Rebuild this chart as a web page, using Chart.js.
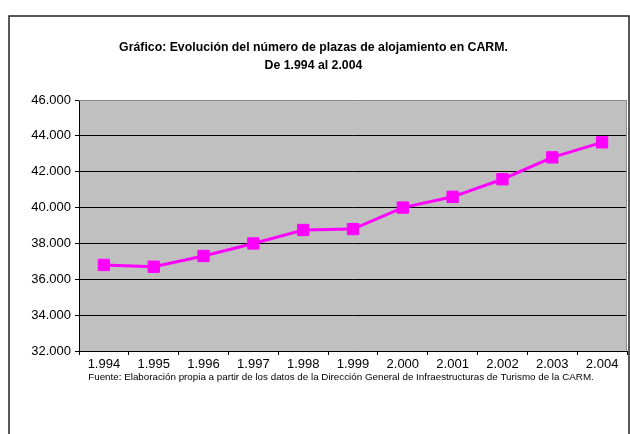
<!DOCTYPE html>
<html>
<head>
<meta charset="utf-8">
<script src="https://cdn.jsdelivr.net/npm/chart.js@4.4.1/dist/chart.umd.min.js"></script>
<style>
  html, body { margin: 0; padding: 0; background: #fff; }
  #wrap { width: 630px; height: 434px; }
</style>
</head>
<body>
<div id="wrap"><canvas id="plazasChart"></canvas></div>
<script>
// chart data
const years = ['1.994', '1.995', '1.996', '1.997', '1.998', '1.999', '2.000', '2.001', '2.002', '2.003', '2.004'];
const plazas = [36800, 36700, 37300, 38000, 38750, 38800, 40000, 40600, 41580, 42800, 43640];
const yMin = 32000;
const yMax = 46000;
const yStep = 2000;

const titleLines = ['Gráfico: Evolución del número de plazas de alojamiento en CARM.', 'De 1.994 al 2.004'];
const sourceNote = 'Fuente: Elaboración propia a partir de los datos de la Dirección General de Infraestructuras de Turismo de la CARM.';

const FONT = 'Liberation Sans, Arial, sans-serif';

// 38000 -> "38.000"
function thousands(v) {
    const s = String(Math.round(v));
    return s.slice(0, s.length - 3) + '.' + s.slice(-3);
}

// grey plot background, outer frame and source note
const framePlugin = {
    id: 'framePlugin',
    beforeDraw(chart) {
        const { ctx, chartArea: a } = chart;
        ctx.save();
        ctx.fillStyle = '#fff';
        ctx.fillRect(0, 0, chart.width, chart.height);
        ctx.fillStyle = '#C0C0C0';
        ctx.fillRect(a.left, a.top, a.right - a.left, a.bottom - a.top);
        ctx.strokeStyle = '#222';
        ctx.lineWidth = 1.5;
        ctx.strokeRect(9, 16, 620, 440);
        ctx.restore();
    },
    beforeDatasetsDraw(chart) {
        const { ctx, chartArea: a } = chart;
        ctx.save();
        ctx.strokeStyle = '#8a8a8a';
        ctx.lineWidth = 1;
        ctx.beginPath();
        ctx.moveTo(a.left, a.top + 0.5);
        ctx.lineTo(a.right - 0.5, a.top + 0.5);
        ctx.lineTo(a.right - 0.5, a.bottom);
        ctx.stroke();
        ctx.restore();
    },
    afterDraw(chart) {
        const { ctx, chartArea: a } = chart;
        ctx.save();
        ctx.fillStyle = '#000';
        ctx.font = '9.8px ' + FONT;
        ctx.textAlign = 'center';
        ctx.textBaseline = 'middle';
        ctx.fillText(sourceNote, 341, a.bottom + 26);
        ctx.restore();
    }
};

new Chart(document.getElementById('plazasChart'), {
    type: 'line',
    data: {
        labels: years,
        datasets: [{
            data: plazas,
            borderColor: '#FF00FF',
            backgroundColor: '#FF00FF',
            borderWidth: 3,
            pointStyle: 'rect',
            pointRadius: 8,
            pointBorderWidth: 1,
            pointBackgroundColor: '#FF00FF',
            pointBorderColor: '#FF00FF',
            tension: 0
        }]
    },
    options: {
        responsive: true,
        maintainAspectRatio: false,
        animation: false,
        layout: {
            autoPadding: false,
            padding: { left: 0, right: 3, top: 0, bottom: 63 }
        },
        plugins: {
            legend: { display: false },
            tooltip: { enabled: false },
            title: {
                display: true,
                text: titleLines,
                color: '#000',
                font: { family: FONT, size: 12.3, weight: 'bold', lineHeight: '18px' },
                padding: { top: 39, bottom: 25 }
            }
        },
        scales: {
            x: {
                offset: true,
                grid: {
                    offset: true,
                    drawOnChartArea: false,
                    drawTicks: true,
                    tickLength: 4,
                    color: '#000'
                },
                border: { display: true, color: '#000', width: 1 },
                ticks: {
                    color: '#000',
                    padding: 2,
                    maxRotation: 0,
                    autoSkip: false,
                    font: { family: FONT, size: 13 }
                },
                afterFit(scale) {
                    scale.height = 20;
                    scale.paddingLeft = 0;
                    scale.paddingRight = 0;
                }
            },
            y: {
                min: yMin,
                max: yMax,
                grid: {
                    color: ctx => (ctx.tick && ctx.tick.value === yMax) ? 'rgba(0,0,0,0)' : '#000',
                    tickColor: '#000',
                    drawTicks: true,
                    tickLength: 4
                },
                border: { display: true, color: '#000', width: 1 },
                ticks: {
                    stepSize: yStep,
                    color: '#000',
                    padding: 4,
                    font: { family: FONT, size: 13 },
                    callback: v => thousands(v)
                },
                afterFit(scale) { scale.width = 79; }
            }
        }
    },
    plugins: [framePlugin]
});
</script>
</body>
</html>
